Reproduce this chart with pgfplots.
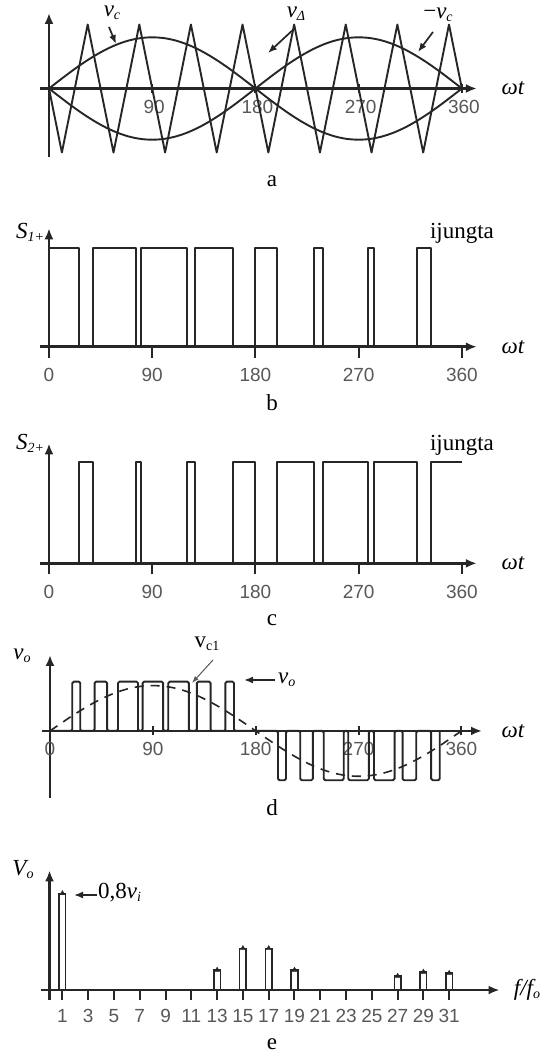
\documentclass[border=0pt]{standalone}
\usepackage{fontspec}
\setmainfont{Liberation Serif}
\newfontfamily\tickfont{Liberation Sans}
\usepackage{pgfplots}
\pgfplotsset{compat=1.18}
\usepackage{pgfplotstable}
\usetikzlibrary{arrows.meta}

\definecolor{ln}{HTML}{262626}
\definecolor{tk}{HTML}{585858}

\newcommand{\sub}[1]{\raisebox{-3pt}{\fontsize{14}{14}\selectfont #1}}

\pgfplotsset{
  pan/.style={
    scale only axis, axis lines=middle, anchor=south west,
    every inner x axis line/.append style={-{Latex[length=11pt,width=9pt]}},
    every inner y axis line/.append style={-{Latex[length=11pt,width=9pt]}},
    axis line style={ln, line width=2.6pt},
    ytick=\empty,
    tick style={ln, line width=2pt},
    major tick length=10pt,
    xticklabel style={font=\tickfont\fontsize{19}{19}\selectfont, text=tk, inner sep=0pt, anchor=north},
    hide obscured x ticks=false,
    clip=false,
  },
  sig/.style={ln, line width=1.9pt, line join=round},
}

\pgfplotstableread{
t vc nvc
0 0 0
10 0.139 -0.139
20 0.274 -0.274
30 0.400 -0.400
40 0.514 -0.514
50 0.613 -0.613
60 0.693 -0.693
70 0.752 -0.752
80 0.788 -0.788
90 0.800 -0.800
100 0.788 -0.788
110 0.752 -0.752
120 0.693 -0.693
130 0.613 -0.613
140 0.514 -0.514
150 0.400 -0.400
160 0.274 -0.274
170 0.139 -0.139
180 0 0
190 -0.139 0.139
200 -0.274 0.274
210 -0.400 0.400
220 -0.514 0.514
230 -0.613 0.613
240 -0.693 0.693
250 -0.752 0.752
260 -0.788 0.788
270 -0.800 0.800
280 -0.788 0.788
290 -0.752 0.752
300 -0.693 0.693
310 -0.613 0.613
320 -0.514 0.514
330 -0.400 0.400
340 -0.274 0.274
350 -0.139 0.139
360 0 0
}\tabA

\pgfplotstableread{
t v
0 0
11.25 -1
33.75 1
56.25 -1
78.75 1
101.25 -1
123.75 1
146.25 -1
168.75 1
191.25 -1
213.75 1
236.25 -1
258.75 1
281.25 -1
303.75 1
326.25 -1
348.75 1
360 0
}\tabTri

\pgfplotstableread{
t s
0 1
26 0
38.7 1
75.7 0
80.6 1
120 0
127.2 1
160.3 0
179.5 1
199 0
231.3 1
239.2 0
278 1
283.3 0
320.6 1
332.8 0
}\tabB

\pgfplotstableread{
t s
26 0
26 1
38.7 0
75.7 1
80.6 0
120 1
127.2 0
160.3 1
179.5 0
199 1
231.3 0
239.2 1
278 0
283.3 1
320.6 0
332.8 1
360 1
}\tabC

\pgfplotstableread{
t v
0 0
19.5 1
26.5 0
39 1
50 0
59.5 1
77 0
81 1
99 0
103.5 1
121.5 0
128.5 1
140.5 0
153.5 1
161 0
199.5 -1
206.5 0
219 -1
230 0
239.5 -1
257 0
261 -1
279 0
283.5 -1
301.5 0
308.5 -1
320.5 0
333.5 -1
341 0
}\tabD

\pgfplotstableread{
t v
0 0
10 0.160
20 0.315
30 0.460
40 0.591
50 0.705
60 0.797
70 0.865
80 0.906
90 0.920
100 0.906
110 0.865
120 0.797
130 0.705
140 0.591
150 0.460
160 0.315
170 0.160
180 0
190 -0.160
200 -0.315
210 -0.460
220 -0.591
230 -0.705
240 -0.797
250 -0.865
260 -0.906
270 -0.920
280 -0.906
290 -0.865
300 -0.797
310 -0.705
320 -0.591
330 -0.460
340 -0.315
350 -0.160
360 0
}\tabDs

\pgfplotstableread{
h a
1 0.80
13 0.166
15 0.345
17 0.345
19 0.166
27 0.116
29 0.150
31 0.140
}\tabE

\begin{document}
\begin{tikzpicture}[x=1pt,y=1pt]
\fill[white] (0pt,0pt) rectangle (548pt,1055pt);
\useasboundingbox (0pt,0pt) rectangle (548pt,1055pt);

% ---------------- panel a
\begin{axis}[pan, at={(39.8pt,898pt)}, width=437pt, height=144pt,
  xmin=-8, xmax=373, ymin=-1.07, ymax=1.18,
  xtick={90,180,270,360}, xticklabels={90,180,270,360},
  tick align=center, major tick length=9pt,
  xticklabel style={yshift=-7pt, xshift=2pt}]
\addplot[sig, smooth] table[x=t,y=vc]{\tabA};
\addplot[sig, smooth] table[x=t,y=nvc]{\tabA};
\addplot[sig, sharp plot] table[x=t,y=v]{\tabTri};
\end{axis}

% ---------------- panel b
\begin{axis}[pan, at={(39.8pt,698.4pt)}, width=437pt, height=128.3pt,
  xmin=-8, xmax=373, ymin=-0.1, ymax=1.2,
  xtick={0,90,180,270,360}, xticklabels={0,90,180,270,360},
  tick align=outside, major tick length=11pt,
  xticklabel style={yshift=-10pt}]
\addplot[sig, const plot] table[x=t,y=s]{\tabB};
\end{axis}

% ---------------- panel c
\begin{axis}[pan, at={(39.8pt,481.5pt)}, width=437pt, height=130pt,
  xmin=-8, xmax=373, ymin=-0.1, ymax=1.18,
  xtick={0,90,180,270,360}, xticklabels={0,90,180,270,360},
  tick align=outside, major tick length=11pt,
  xticklabel style={yshift=-11pt}]
\addplot[sig, const plot] table[x=t,y=s]{\tabC};
\end{axis}

% ---------------- panel d
\begin{axis}[pan, at={(42pt,257pt)}, width=440pt, height=143pt,
  xmin=-7, xmax=378, ymin=-1.36, ymax=1.54,
  xtick={0,90,180,270,360}, xticklabels={0,90,180,270,360},
  tick align=center, major tick length=9pt,
  xticklabel style={yshift=-7pt}]
\addplot[sig, dash pattern=on 9pt off 7pt, smooth, line width=1.6pt] table[x=t,y=v]{\tabDs};
\addplot[sig, const plot, rounded corners=1.5pt] table[x=t,y=v]{\tabD};
\end{axis}

% ---------------- panel e
\begin{axis}[pan, at={(40.5pt,55.3pt)}, width=459pt, height=129.3pt,
  xmin=-0.7, xmax=34.9, ymin=-0.08, ymax=0.99,
  xtick={1,3,5,7,9,11,13,15,17,19,21,23,25,27,29,31},
  xticklabels={1,3,5,7,9,11,13,15,17,19,21,23,25,27,29,31},
  tick align=outside, major tick length=10pt,
  xticklabel style={yshift=-9pt}]
\addplot[ybar, bar width=6.5pt, fill=white, draw=ln, line width=1.6pt] table[x=h,y=a]{\tabE};
\addplot[only marks, mark=triangle*, mark size=2.8pt, ln] table[x=h,y=a]{\tabE};
\end{axis}

% ---------------- texts
\tikzset{lab/.style={font=\fontsize{23}{23}\selectfont, text=black, inner sep=0pt},
         ann/.style={font=\fontsize{23}{23}\selectfont, text=black, inner sep=0pt},
         arr/.style={ln, line width=1.7pt, -{Latex[length=9pt,width=7pt]}}}

\node[ann] at (513pt,967pt) {\itshape ωt};
\node[ann] at (513pt,708.3pt) {\itshape ωt};
\node[ann] at (513pt,491.7pt) {\itshape ωt};
\node[ann] at (513pt,324pt) {\itshape ωt};
\node[ann] at (527pt,65pt) {\itshape f/f\sub{o}};

\node[ann] at (112pt,1042pt) {\itshape v\sub{c}};
\draw[arr] (109pt,1028pt) -- (116pt,1011pt);
\node[ann] at (296pt,1041pt) {\itshape v\sub{Δ}};
\draw[arr] (295pt,1027pt) -- (268pt,1002pt);
\node[ann] at (438pt,1040pt) {−\itshape v\sub{c}};
\draw[arr] (433pt,1023pt) -- (418pt,1003pt);

\node[ann] at (30pt,823pt) {\itshape S\sub{1+}};
\node[ann] at (462pt,822pt) {ijungta};
\node[ann] at (30pt,612pt) {\itshape S\sub{2+}};
\node[ann] at (462pt,610pt) {ijungta};

\node[ann] at (22pt,399pt) {\itshape v\sub{o}};
\node[ann] at (207pt,411pt) {v\sub{c1}};
\draw[tk, line width=1pt, -{Latex[length=7pt,width=5pt]}] (213pt,395pt) -- (192pt,372pt);
\draw[arr] (275pt,375pt) -- (244pt,375pt);
\node[ann, anchor=west] at (278pt,375pt) {\itshape v\sub{o}};

\node[ann] at (23pt,185pt) {\itshape V\sub{o}};
\draw[arr] (97pt,160pt) -- (74pt,160pt);
\node[ann, anchor=west] at (98pt,162pt) {0,8\itshape v\sub{i}};

\node[lab] at (272pt,874pt) {a};
\node[lab] at (272pt,652pt) {b};
\node[lab] at (272pt,435pt) {c};
\node[lab] at (272pt,247pt) {d};
\node[lab] at (272pt,11pt) {e};
\end{tikzpicture}
\end{document}
